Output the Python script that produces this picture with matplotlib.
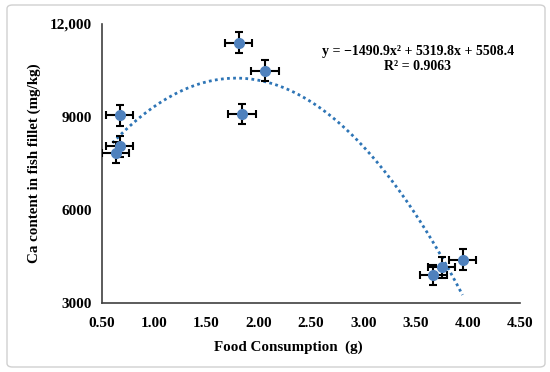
import matplotlib
matplotlib.use("Agg")
import matplotlib.pyplot as plt
import numpy as np
from matplotlib.patches import FancyBboxPatch

# Data
food = [0.67, 0.67, 0.63, 1.81, 2.06, 1.84, 3.67, 3.75, 3.95]
ca = [9050, 8050, 7850, 11400, 10500, 9100, 3900, 4150, 4400]
food_err = [0.13] * 9
ca_err = [330] * 9
trend_coef = [-1490.9, 5319.8, 5508.4]
trend_range = [0.60, 3.95]
xticks = [0.5, 1.0, 1.5, 2.0, 2.5, 3.0, 3.5, 4.0, 4.5]
xtick_labels = ["0.50", "1.00", "1.50", "2.00", "2.50", "3.00", "3.50", "4.00", "4.50"]
yticks = [3000, 6000, 9000, 12000]
ytick_labels = ["3000", "6000", "9000", "12,000"]

plt.rcParams['font.family'] = ['Liberation Serif', 'DejaVu Serif']
plt.rcParams['font.weight'] = 'bold'

W, H = 550, 372
fig = plt.figure(figsize=(W / 100, H / 100), dpi=100)
ax = fig.add_axes([102 / W, 1 - 303 / H, (520 - 102) / W, (303 - 24) / H])

# border
fig.patches.append(FancyBboxPatch((7 / W, 5 / H), (545 - 7) / W, (367 - 5) / H,
                                  boxstyle="round,pad=0,rounding_size=0.01",
                                  transform=fig.transFigure, fill=False,
                                  edgecolor='#d0d0d0', linewidth=1.0))

tx = np.linspace(trend_range[0], trend_range[1], 200)
ax.plot(tx, np.polyval(trend_coef, tx), linestyle=(0, (1, 1.2)), color='#2E75B6',
        linewidth=2.0, zorder=2)

ax.errorbar(food, ca, xerr=food_err, yerr=ca_err, fmt='o', color='#4F81BD',
            markersize=7, ecolor='black', elinewidth=1.5, capsize=3, capthick=1.5,
            zorder=3)

ax.set_xlim(0.5, 4.5)
ax.set_ylim(3000, 12000)
ax.set_xticks(xticks)
ax.set_xticklabels(xtick_labels)
ax.set_yticks(yticks)
ax.set_yticklabels(ytick_labels)
ax.tick_params(length=0, labelsize=11, pad=7)
ax.tick_params(axis='x', pad=10)
for lbl in ax.get_xticklabels() + ax.get_yticklabels():
    lbl.set_fontweight('bold')
ax.spines['top'].set_visible(False)
ax.spines['right'].set_visible(False)
for s in ['left', 'bottom']:
    ax.spines[s].set_color('#404040')
    ax.spines[s].set_linewidth(1.2)

fig.text(288 / W, 1 - 347 / H, "Food Consumption  (g)", ha='center', va='center',
         fontsize=10.8, fontweight='bold')
fig.text(34 / W, 1 - 163 / H, "Ca content in fish fillet (mg/kg)", ha='center',
         va='center', rotation=90, fontsize=10.8, fontweight='bold')
fig.text(418 / W, 1 - 59 / H, "y = \u22121490.9x\u00b2 + 5319.8x + 5508.4\nR\u00b2 = 0.9063",
         ha='center', va='center', fontsize=10, fontweight='bold', linespacing=1.1)

fig.savefig("out.png", dpi=100)
